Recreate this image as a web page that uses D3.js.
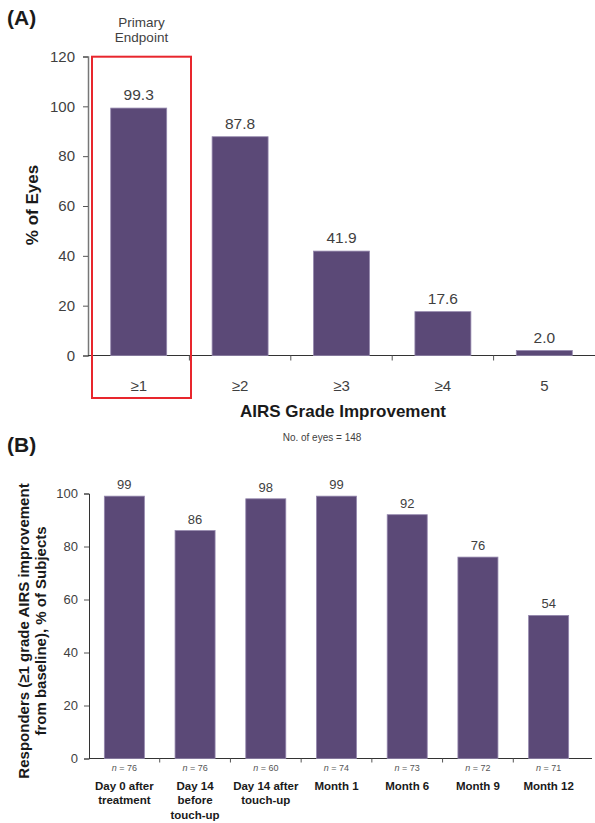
<!DOCTYPE html>
<html>
<head>
<meta charset="utf-8">
<script src="https://cdn.jsdelivr.net/npm/d3@7"></script>
<style>
  html, body { margin: 0; padding: 0; background: #fff; }
  svg { display: block; font-family: "Liberation Sans", Arial, Helvetica, sans-serif; }
</style>
</head>
<body>
<svg id="fig" width="595" height="823"></svg>
<script>
// Panel A: share of eyes by AIRS grade improvement
const gradeLabels = ["≥1", "≥2", "≥3", "≥4", "5"];
const gradeValues = [99.3, 87.8, 41.9, 17.6, 2.0];
const eyeTicks = [0, 20, 40, 60, 80, 100, 120];

// Panel B: responders (≥1 grade improvement) over follow-up visits
const visitLabels = [
  ["Day 0 after", "treatment"],
  ["Day 14", "before", "touch-up"],
  ["Day 14 after", "touch-up"],
  ["Month 1"],
  ["Month 6"],
  ["Month 9"],
  ["Month 12"]
];
const visitN = [76, 76, 60, 74, 73, 72, 71];
const responderValues = [99, 86, 98, 99, 92, 76, 54];
const subjectTicks = [0, 20, 40, 60, 80, 100];

const barFill = "#5b4977";
const barEdge = "#9487ad";
const textCol = "#3f3f3f";
const axisCol = "#555";

const svg = d3.select("#fig");

// ---------- Panel A ----------
const gA = svg.append("g");
const xA = d3.scaleBand().domain(gradeLabels).range([88, 595]).paddingInner(0.448).paddingOuter(0.224);
const yA = d3.scaleLinear().domain([0, 120]).range([355.5, 56.5]);

gA.append("g")
  .attr("transform", "translate(88,0)")
  .call(d3.axisLeft(yA).tickValues(eyeTicks).tickSize(5).tickPadding(8).tickFormat(d3.format("d")))
  .call(g => g.select(".domain").attr("stroke", "#777").attr("stroke-width", 1.5))
  .call(g => g.selectAll(".tick line").attr("stroke", axisCol))
  .call(g => g.selectAll(".tick text").attr("fill", textCol).attr("font-size", 15)
    .attr("font-family", "'Liberation Sans', Arial, sans-serif"));

// baseline with ticks at band boundaries
gA.append("line").attr("x1", 88).attr("x2", 595).attr("y1", yA(0)).attr("y2", yA(0))
  .attr("stroke", "#333").attr("stroke-width", 1.2);
gA.selectAll("line.bt").data(d3.range(1, gradeLabels.length)).join("line")
  .attr("class", "bt")
  .attr("x1", i => 88 + i * xA.step()).attr("x2", i => 88 + i * xA.step())
  .attr("y1", yA(0)).attr("y2", yA(0) + 5)
  .attr("stroke", axisCol);

gA.selectAll("rect.bar").data(gradeValues).join("rect")
  .attr("class", "bar")
  .attr("x", (d, i) => xA(gradeLabels[i]))
  .attr("width", xA.bandwidth())
  .attr("y", d => yA(d))
  .attr("height", d => yA(0) - yA(d))
  .attr("fill", barFill).attr("stroke", barEdge).attr("stroke-width", 0.8);

gA.selectAll("text.val").data(gradeValues).join("text")
  .attr("class", "val")
  .attr("x", (d, i) => xA(gradeLabels[i]) + xA.bandwidth() / 2)
  .attr("y", d => yA(d) - 8)
  .attr("text-anchor", "middle").attr("font-size", 15.5).attr("fill", textCol)
  .text(d => d.toFixed(1));

gA.selectAll("text.cat").data(gradeLabels).join("text")
  .attr("class", "cat")
  .attr("x", d => xA(d) + xA.bandwidth() / 2)
  .attr("y", 391)
  .attr("text-anchor", "middle").attr("font-size", 15).attr("fill", textCol)
  .text(d => d);

// highlight box around the primary endpoint
gA.append("rect").attr("x", 92).attr("y", 56.7).attr("width", 99).attr("height", 341.3)
  .attr("fill", "none").attr("stroke", "#e8262d").attr("stroke-width", 2);
gA.append("text").attr("x", 141.5).attr("y", 26.5).attr("text-anchor", "middle")
  .attr("font-size", 13.5).attr("fill", textCol).text("Primary");
gA.append("text").attr("x", 141.5).attr("y", 41.5).attr("text-anchor", "middle")
  .attr("font-size", 13.5).attr("fill", textCol).text("Endpoint");

gA.append("text").attr("x", 7).attr("y", 25).attr("font-size", 21).attr("font-weight", "bold")
  .attr("fill", "#1a1a1a").text("(A)");
gA.append("text").attr("transform", "translate(38,205) rotate(-90)").attr("text-anchor", "middle")
  .attr("font-size", 17).attr("font-weight", "bold").attr("fill", "#1a1a1a").text("% of Eyes");
gA.append("text").attr("x", 343).attr("y", 417).attr("text-anchor", "middle")
  .attr("font-size", 17).attr("font-weight", "bold").attr("fill", "#1a1a1a").text("AIRS Grade Improvement");
gA.append("text").attr("x", 322).attr("y", 441).attr("text-anchor", "middle")
  .attr("font-size", 10).attr("fill", textCol).text("No. of eyes = 148");

// ---------- Panel B ----------
const gB = svg.append("g");
const visitKeys = visitLabels.map(l => l.join(" "));
const xB = d3.scaleBand().domain(visitKeys).range([89, 584]).paddingInner(0.434).paddingOuter(0.217);
const yB = d3.scaleLinear().domain([0, 100]).range([758.5, 493.5]);

gB.append("g")
  .attr("transform", "translate(89,0)")
  .call(d3.axisLeft(yB).tickValues(subjectTicks).tickSize(5).tickPadding(6).tickFormat(d3.format("d")))
  .call(g => g.select(".domain").attr("stroke", "#333").attr("stroke-width", 1))
  .call(g => g.selectAll(".tick line").attr("stroke", axisCol))
  .call(g => g.selectAll(".tick text").attr("fill", textCol).attr("font-size", 13)
    .attr("font-family", "'Liberation Sans', Arial, sans-serif"));

gB.append("line").attr("x1", 89).attr("x2", 592).attr("y1", yB(0)).attr("y2", yB(0))
  .attr("stroke", "#333").attr("stroke-width", 1.2);
gB.selectAll("line.bt").data(d3.range(1, visitKeys.length)).join("line")
  .attr("class", "bt")
  .attr("x1", i => 89 + i * xB.step()).attr("x2", i => 89 + i * xB.step())
  .attr("y1", yB(0)).attr("y2", yB(0) + 4)
  .attr("stroke", axisCol);

gB.selectAll("rect.bar").data(responderValues).join("rect")
  .attr("class", "bar")
  .attr("x", (d, i) => xB(visitKeys[i]))
  .attr("width", xB.bandwidth())
  .attr("y", d => yB(d))
  .attr("height", d => yB(0) - yB(d))
  .attr("fill", barFill).attr("stroke", barEdge).attr("stroke-width", 0.8);

gB.selectAll("text.val").data(responderValues).join("text")
  .attr("class", "val")
  .attr("x", (d, i) => xB(visitKeys[i]) + xB.bandwidth() / 2)
  .attr("y", d => yB(d) - 7)
  .attr("text-anchor", "middle").attr("font-size", 13).attr("fill", textCol)
  .text(d => d);

const nText = gB.selectAll("text.n").data(visitN).join("text")
  .attr("class", "n")
  .attr("x", (d, i) => xB(visitKeys[i]) + xB.bandwidth() / 2)
  .attr("y", 771)
  .attr("text-anchor", "middle").attr("font-size", 9).attr("fill", "#555");
nText.append("tspan").attr("font-style", "italic").text("n");
nText.append("tspan").text(d => " = " + d);

const catB = gB.selectAll("text.cat").data(visitLabels).join("text")
  .attr("class", "cat")
  .attr("text-anchor", "middle").attr("font-size", 11.5).attr("font-weight", "bold").attr("fill", "#1a1a1a");
catB.each(function(lines, i) {
  const cx = xB(visitKeys[i]) + xB.bandwidth() / 2;
  d3.select(this).selectAll("tspan").data(lines).join("tspan")
    .attr("x", cx).attr("y", (d, j) => 790 + j * 14.4).text(d => d);
});

gB.append("text").attr("x", 7).attr("y", 452).attr("font-size", 21).attr("font-weight", "bold")
  .attr("fill", "#1a1a1a").text("(B)");
const yTitleB = gB.append("text").attr("transform", "translate(0,631) rotate(-90)")
  .attr("text-anchor", "middle").attr("font-size", 15).attr("font-weight", "bold").attr("fill", "#1a1a1a");
yTitleB.append("tspan").attr("x", 0).attr("y", 29).text("Responders (≥1 grade AIRS improvement");
yTitleB.append("tspan").attr("x", 0).attr("y", 46).text("from baseline), % of Subjects");
</script>
</body>
</html>
